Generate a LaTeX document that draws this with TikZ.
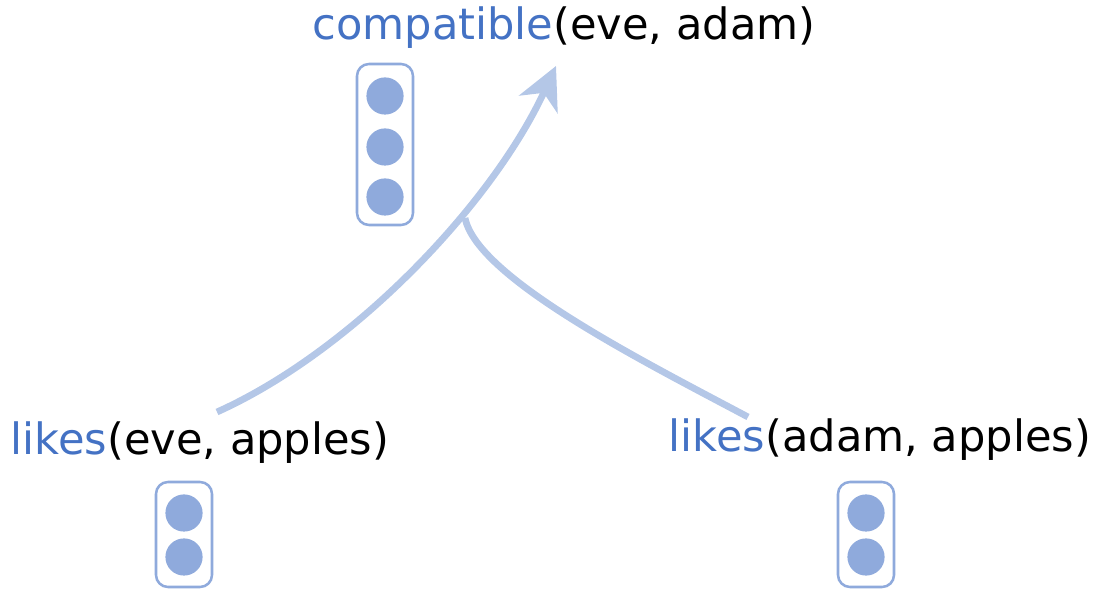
\documentclass[tikz,border=0pt]{standalone}
\usepackage{fontspec}
\setmainfont{DejaVu Sans}
\definecolor{Predcol}{HTML}{4472C4}
\definecolor{Unitcol}{HTML}{8FAADC}
\definecolor{Flowcol}{HTML}{B4C7E7}
\usetikzlibrary{arrows.meta}
\tikzset{
    >=Stealth,
    fact/.style={inner sep=0pt, font=\fontsize{30.7}{36}\selectfont},
    vecbox/.style={draw=Unitcol, line width=1.8pt, rounded corners=0.3cm, minimum width=1.4cm, inner sep=0pt},
    unit/.style={circle, fill=Unitcol, minimum size=0.93cm, inner sep=0pt},
    flow/.style={Flowcol, line width=4.8pt}
}

\begin{document}
\begin{tikzpicture}
    \useasboundingbox (0,0) rectangle (27.4,14.725);

    % Facts
    \node[fact] (compat) at (14.1,14.025) {\textcolor{Predcol}{compatible}(eve, adam)};
    \node[fact] (likesEve) at (5.0,3.65) {\textcolor{Predcol}{likes}(eve, apples)};
    \node[fact] (likesAdam) at (22.0,3.725) {\textcolor{Predcol}{likes}(adam, apples)};

    % Embedding vectors
    \node[vecbox, minimum height=4.025cm] (vecCompat) at (9.625,11.1125) {};
    \foreach \y [count=\i] in {12.325, 11.05, 9.8}
        \node[unit] (compatU\i) at (9.625,\y) {};

    \node[vecbox, minimum height=2.625cm] (vecEve) at (4.6,1.3625) {};
    \node[vecbox, minimum height=2.625cm] (vecAdam) at (21.65,1.3625) {};
    \foreach \y [count=\i] in {1.9, 0.8} {
        \node[unit] (eveU\i) at (4.6,\y) {};
        \node[unit] (adamU\i) at (21.65,\y) {};
    }

    % Inference flow
    \coordinate (eveStart) at (5.425,4.425);
    \coordinate (adamStart) at (18.7,4.3);
    \coordinate (merge) at (11.625,9.275);
    \coordinate (compatIn) at (13.9,13.075);

    \draw[flow, -{Stealth[length=30pt, width=30pt, inset=9pt]}]
        (eveStart) .. controls (8.84,5.96) and (12.33,9.66) .. (compatIn);
    \draw[flow] (adamStart) .. controls (16.05,5.71) and (11.93,7.78) .. (merge);
\end{tikzpicture}
\end{document}
